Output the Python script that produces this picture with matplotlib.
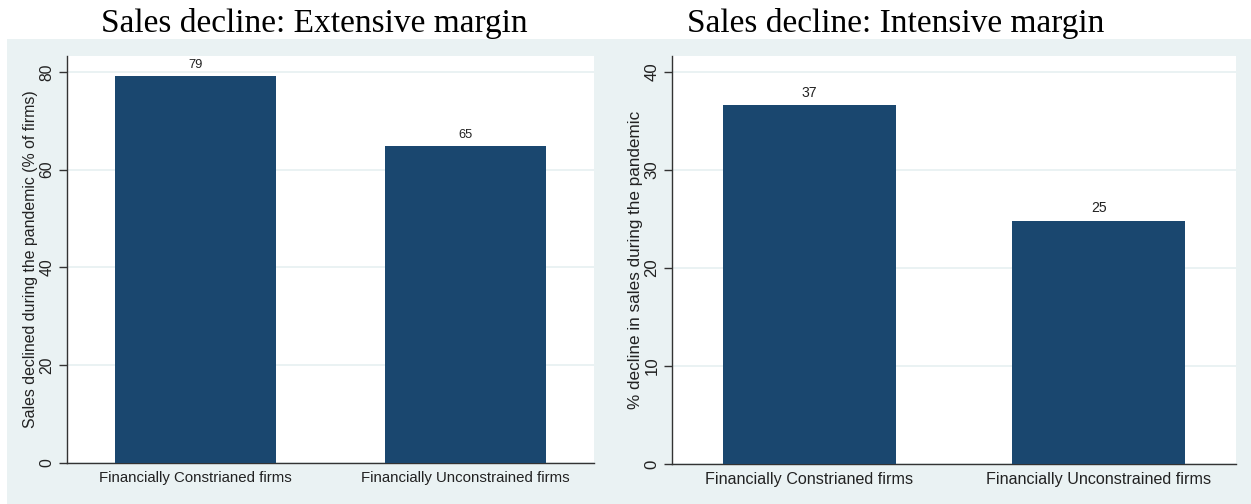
import matplotlib
matplotlib.use("Agg")
import matplotlib.pyplot as plt
from matplotlib.patches import Rectangle

# data
groups = ["Financially Constrianed firms", "Financially Unconstrained firms"]
extensive = [79.1, 64.8]
extensive_labels = ["79", "65"]
intensive = [36.6, 24.8]
intensive_labels = ["37", "25"]

navy = "#1a476f"
bg = "#eaf2f3"

plt.rcParams["font.family"] = ["Liberation Sans", "DejaVu Sans"]

fig = plt.figure(figsize=(12.51, 5.04), dpi=100)
fig.patches.append(Rectangle((7 / 1251, 0), 1 - 7 / 1251, (504 - 39) / 504,
                             transform=fig.transFigure, facecolor=bg,
                             edgecolor="none", zorder=-10))


def panel(rect, vals, labels, ymax, yticks, ylabel, fs, yfs, lpad):
    ax = fig.add_axes(rect)
    ax.set_facecolor("white")
    ax.bar(range(len(vals)), vals, width=0.597, color=navy, zorder=3)
    for i, (v, t) in enumerate(zip(vals, labels)):
        ax.annotate(t, (i, v), xytext=(0, 4), textcoords="offset points",
                    ha="center", va="bottom", fontsize=fs - 1.5, color="#222222")
    ax.set_xlim(-0.475, 1.475)
    ax.set_ylim(0, ymax)
    ax.set_yticks(yticks)
    ax.set_xticks(range(len(vals)))
    ax.set_xticklabels(groups, fontsize=fs, color="#222222")
    ax.tick_params(axis="x", length=0, pad=6)
    ax.tick_params(axis="y", length=6, width=1, color="#333333", pad=3,
                   labelsize=fs + 0.5, labelcolor="#222222")
    for lab in ax.get_yticklabels():
        lab.set_rotation(90)
        lab.set_va("center")
    ax.yaxis.grid(True, color=bg, linewidth=1.4, zorder=0)
    ax.set_axisbelow(True)
    for s in ["top", "right"]:
        ax.spines[s].set_visible(False)
    for s in ["left", "bottom"]:
        ax.spines[s].set_color("#333333")
        ax.spines[s].set_linewidth(1.0)
    ax.set_ylabel(ylabel, fontsize=yfs, color="#222222", labelpad=lpad)
    return ax


panel([67 / 1251, (504 - 463) / 504, (594 - 67) / 1251, (463 - 55.7) / 504],
      extensive, extensive_labels, 83.3, [0, 20, 40, 60, 80],
      "Sales declined during the pandemic (% of firms)", 10.8, 11.4, 1)
panel([672 / 1251, (504 - 464) / 504, (1236 - 672) / 1251, (464 - 55.7) / 504],
      intensive, intensive_labels, 41.66, [0, 10, 20, 30, 40],
      "% decline in sales during the pandemic", 11.6, 12.3, 1)

fig.text(314 / 1251, 1 - 32 / 504, "Sales decline: Extensive margin",
         ha="center", va="baseline", fontsize=24,
         family=["Liberation Serif", "DejaVu Serif"])
fig.text(896 / 1251, 1 - 32 / 504, "Sales decline: Intensive margin",
         ha="center", va="baseline", fontsize=24,
         family=["Liberation Serif", "DejaVu Serif"])

fig.savefig("out.png", dpi=100, facecolor="white")
